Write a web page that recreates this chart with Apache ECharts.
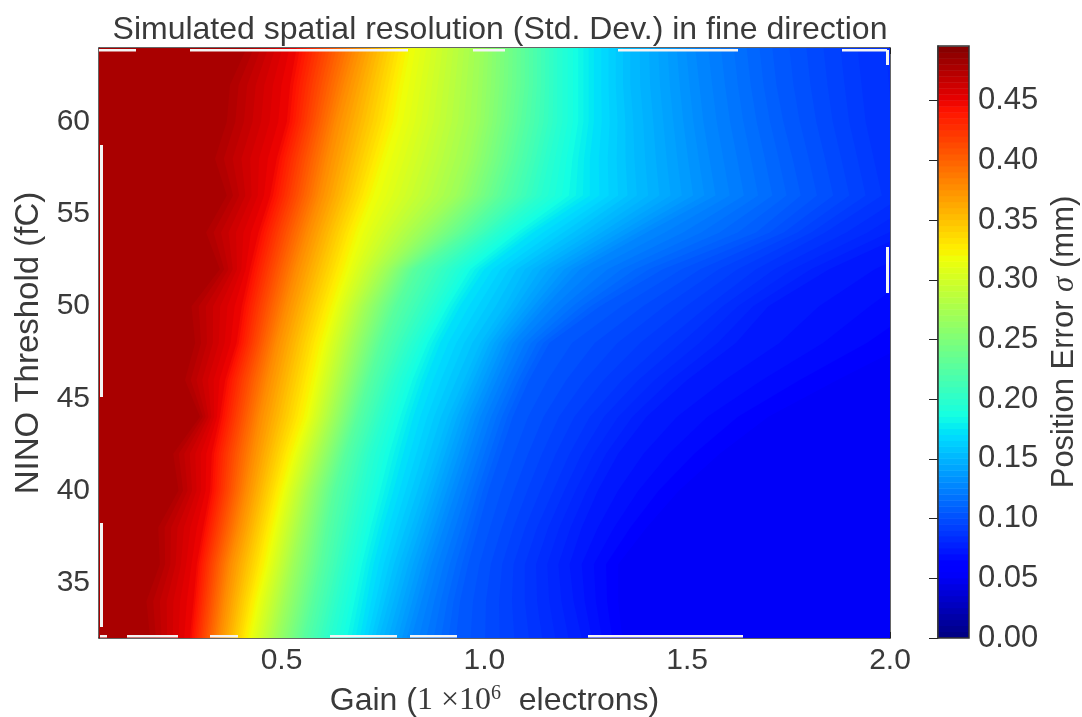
<!DOCTYPE html>
<html><head><meta charset="utf-8">
<style>html,body{margin:0;padding:0;background:#fff}#c{width:1082px;height:717px}</style>
<script src="https://cdn.jsdelivr.net/npm/echarts@6/dist/echarts.min.js"></script>
</head><body><div id="c"></div>
<script>
const xTicks = [0.5, 1.0, 1.5, 2.0];
const yTicks = [35, 40, 45, 50, 55, 60];
const barTicks = [0, 0.05, 0.1, 0.15, 0.2, 0.25, 0.3, 0.35, 0.4, 0.45];
const thresholds = [32,34,36,38,40,42,44,46,48,50,52,54,56,58,60,62,64];
// Gain at which sigma falls to a given value, read for each threshold row
const iso478 = [.176,.167,.200,.196,.246,.233,.299,.262,.287,.278,.348,.314,.365,.336,.365,.373,.414];
const iso450 = [.274,.283,.291,.307,.324,.328,.348,.361,.389,.402,.422,.443,.472,.488,.513,.521,.537];
const iso380 = [.348,.36,.373,.395,.414,.43,.447,.467,.488,.512,.537,.565,.595,.615,.636,.66,.685];
const iso320 = [.422,.44,.463,.482,.504,.53,.562,.582,.603,.63,.661,.69,.726,.755,.784,.80,.817];
const iso270 = [.49,.51,.53,.55,.57,.60,.63,.655,.68,.71,.76,.84,.93,.96,.98,.985,.99];
const iso230 = [.554,.575,.595,.61,.628,.655,.685,.713,.743,.78,.825,.95,1.04,1.07,1.09,1.10,1.10];
const iso200 = [.62,.64,.66,.68,.70,.72,.75,.78,.82,.87,.92,1.03,1.14,1.16,1.18,1.18,1.18];
const iso175 = [.693,.71,.727,.75,.776,.80,.825,.855,.891,.94,1.00,1.12,1.26,1.26,1.27,1.27,1.27];
const iso155 = [.74,.765,.79,.82,.85,.88,.91,.95,.99,1.05,1.10,1.244,1.376,1.37,1.367,1.36,1.36];
const iso130 = [.82,.845,.87,.90,.93,.96,.99,1.03,1.07,1.15,1.236,1.40,1.57,1.555,1.54,1.53,1.52];
const iso108 = [.93,.94,.96,.985,1.01,1.04,1.07,1.11,1.16,1.285,1.44,1.67,1.78,1.76,1.737,1.72,1.71];
const iso090 = [1.11,1.10,1.10,1.13,1.17,1.21,1.26,1.34,1.44,1.55,1.67,1.84,1.98,1.96,1.94,1.93,1.92];
const iso077 = [1.24,1.22,1.21,1.24,1.28,1.33,1.40,1.50,1.62,1.70,1.85,2.05,2.2,2.2,2.2,2.2,2.2];
const iso062 = [1.34,1.33,1.33,1.40,1.48,1.58,1.70,1.87,2.05,2.2,2.3,2.5,2.8,2.8,2.8,2.8,2.8];
const isoLevels = [
  [.062,iso062],[.077,iso077],[.090,iso090],[.108,iso108],[.130,iso130],[.155,iso155],[.175,iso175],
  [.200,iso200],[.230,iso230],[.270,iso270],[.320,iso320],[.380,iso380],[.450,iso450],[.478,iso478]
];
const floorValue = 0.052;
const barMax = 0.4958;

function lerpStops(stops, f){
  if (f <= stops[0][0]) return stops[0][1];
  for (let i = 1; i < stops.length; i++) {
    if (f <= stops[i][0]) {
      const t = (f - stops[i-1][0]) / (stops[i][0] - stops[i-1][0]);
      return stops[i-1][1] + t * (stops[i][1] - stops[i-1][1]);
    }
  }
  return stops[stops.length-1][1];
}
function jet(v){
  const f = v / barMax;
  const r = lerpStops([[0,0],[.35,0],[.66,1],[.89,1],[1,.5]], f);
  const g = lerpStops([[0,0],[.125,0],[.375,1],[.64,1],[.91,0],[1,0]], f);
  const b = lerpStops([[0,.5],[.11,1],[.34,1],[.65,0],[1,0]], f);
  return 'rgb(' + [r,g,b].map(c => Math.round(c*255)).join(',') + ')';
}
// shading bands: one polygon per shade between two neighbouring isolines
const bands = [];
for (let i = 0; i < isoLevels.length - 1; i++) {
  const [a, ga] = isoLevels[i], [b, gb] = isoLevels[i+1];
  const n = Math.max(1, Math.ceil((b - a) / 0.004));
  for (let k = 0; k < n; k++) {
    const t = k / n;
    bands.push({ v: a + t*(b-a), g: ga.map((x,j) => x + t*(gb[j]-x)) });
  }
}
bands.unshift({ v: floorValue, g: thresholds.map(() => 3) });
bands.push({ v: .478, g: iso478 });

const barSteps = [];
for (let i = 0; i < 99; i++) barSteps.push(i * 0.005);

const textColor = '#3a3a3a';
const sans = '"Liberation Sans", Arial, sans-serif';
const serif = '"Liberation Serif", "DejaVu Serif", serif';
const mainX = {min:.05, max:2, gridIndex:0, type:'value', splitLine:{show:false}};
const mainY = {min:32, max:64, gridIndex:0, type:'value', splitLine:{show:false}};
const frameLine = {show:true, lineStyle:{color:'#333', width:1.5}};
const tickStyle = {inside:true, length:6, lineStyle:{color:'#222', width:1}};

const whiteStrips = [
 [99,49,37,2.5],[190,49,218,2.5],[473,49,32,2.5],[618,49,120,2.5],[842,49,45,2.5],
 [886,50,3,15],[886,247,3,46],
 [100,145,3,252],[100,523,3,104],
 [100,635,7,2.5],[127,635,51,2.5],[210,635,28,2.5],[330,635,67,2.5],[410,635,47,2.5],[588,635,155,2.5]
];

const chart = echarts.init(document.getElementById('c'));
chart.setOption({
  animation:false,
  backgroundColor:'#fff',
  title:{text:'Simulated spatial resolution (Std. Dev.) in fine direction', left:495, top:9, textAlign:'center',
    textStyle:{fontFamily:sans, fontSize:32, fontWeight:'normal', color:textColor}},
  grid:[
    {left:99, top:48, width:791, height:590, outerBoundsMode:'none'},
    {left:938, top:46, width:31, height:592, outerBoundsMode:'none'}
  ],
  xAxis:[
    Object.assign({}, mainX, {position:'bottom', axisLine:frameLine,
      axisTick:Object.assign({customValues:xTicks}, tickStyle),
      axisLabel:{customValues:xTicks, formatter:v => v.toFixed(1), margin:8, fontFamily:sans, fontSize:30, color:textColor},
      name:'{a|Gain (}{m|1 ×10}{s|6}{a|  electrons)}', nameLocation:'middle', nameGap:46,
      nameTextStyle:{fontFamily:sans, fontSize:32, color:textColor, rich:{
        a:{fontFamily:sans, fontSize:32, color:textColor},
        m:{fontFamily:serif, fontSize:32, color:textColor},
        s:{fontFamily:serif, fontSize:20, color:textColor, padding:[0,0,14,0]}
      }}}),
    Object.assign({}, mainX, {position:'top', axisLine:frameLine,
      axisTick:Object.assign({customValues:xTicks}, tickStyle), axisLabel:{show:false}}),
    {gridIndex:1, type:'value', min:0, max:1, show:false}
  ],
  yAxis:[
    Object.assign({}, mainY, {position:'left', axisLine:frameLine,
      axisTick:Object.assign({customValues:yTicks}, tickStyle),
      axisLabel:{customValues:yTicks, margin:9, fontFamily:sans, fontSize:30, color:textColor},
      name:'NINO Threshold (fC)', nameLocation:'middle', nameGap:53, nameRotate:90,
      nameTextStyle:{fontFamily:sans, fontSize:33, color:textColor, padding:[0,0,0,0]}}),
    Object.assign({}, mainY, {position:'right', axisLine:frameLine,
      axisTick:Object.assign({customValues:yTicks}, tickStyle), axisLabel:{show:false}}),
    {gridIndex:1, type:'value', position:'right', min:0, max:barMax, splitLine:{show:false},
      axisLine:{show:true, lineStyle:{color:'#333', width:1.5}},
      axisTick:{customValues:barTicks, inside:true, length:9, lineStyle:{color:'#222', width:1}},
      axisLabel:{customValues:barTicks, formatter:v => v.toFixed(2), margin:9, fontFamily:sans, fontSize:31, color:textColor},
      name:'{a|Position Error }{g|σ}{a| (mm)}', nameLocation:'middle', nameGap:80, nameRotate:90,
      nameTextStyle:{fontFamily:sans, fontSize:31, color:textColor, rich:{
        a:{fontFamily:sans, fontSize:31, color:textColor},
        g:{fontFamily:serif, fontStyle:'italic', fontSize:31, color:textColor}
      }}}
  ],
  graphic:whiteStrips.map(s => ({type:'rect', z:50, silent:true,
    shape:{x:s[0], y:s[1], width:s[2], height:s[3]}, style:{fill:'#f4f4f4'}}))
    .concat([{type:'rect', z:51, silent:true, shape:{x:938,y:46,width:31,height:592}, style:{fill:'none', stroke:'#333', lineWidth:1.5}}]),
  series:[
    {type:'custom', name:'sigma', xAxisIndex:0, yAxisIndex:0, clip:true, silent:true, z:2,
      data:bands.map(b => [b.v]),
      renderItem:(params, api) => {
        const b = bands[params.dataIndex];
        const pts = [api.coord([mainX.min, thresholds[0]])];
        thresholds.forEach((t,j) => pts.push(api.coord([Math.max(b.g[j], mainX.min), t])));
        pts.push(api.coord([mainX.min, thresholds[thresholds.length-1]]));
        return {type:'polygon', shape:{points:pts}, style:{fill:jet(b.v), stroke:null}};
      }},
    {type:'custom', name:'colorbar', xAxisIndex:2, yAxisIndex:2, clip:true, silent:true, z:2,
      data:barSteps.map(v => [0, v]),
      renderItem:(params, api) => {
        const v = api.value(1);
        const p0 = api.coord([0, v]), p1 = api.coord([1, Math.min(v + 0.005, barMax)]);
        return {type:'rect', shape:{x:p0[0], y:p1[1]-0.5, width:p1[0]-p0[0], height:p0[1]-p1[1]+0.5}, style:{fill:jet(v+0.0025)}};
      }}
  ]
});
</script></body></html>
